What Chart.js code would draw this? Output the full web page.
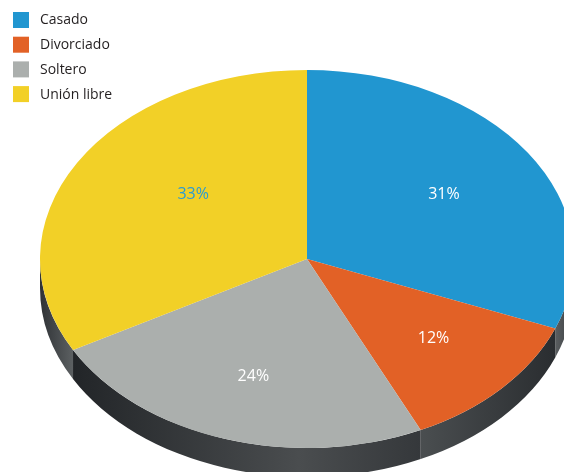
<!DOCTYPE html>
<html><head><meta charset="utf-8">
<script src="https://cdn.jsdelivr.net/npm/chart.js@4/dist/chart.umd.min.js"></script>
<style>html,body{margin:0;padding:0;background:#fff;overflow:hidden}</style>
</head><body>
<canvas id="c" width="564" height="472" style="display:block;width:564px;height:472px"></canvas>
<script>
const categories = ['Casado', 'Divorciado', 'Soltero', 'Unión libre'];
const values = [31, 12, 24, 33];
const valueLabels = ['31%', '12%', '24%', '33%'];
const sliceColors = ['#2196d0', '#e26126', '#abafad', '#f2d027'];

const pie3d = {
  id: 'pie3d',
  beforeDatasetsDraw(chart, args, opts) {
    const ctx = chart.ctx;
    const meta = chart.getDatasetMeta(0);
    const p = meta.data[0].getProps(['x', 'y', 'outerRadius'], true);
    const cx = p.x, cy = p.y, ry = p.outerRadius, rx = ry * opts.scaleX, d = opts.depth;
    ctx.save();
    meta.data.forEach((arc, i) => {
      const q = arc.getProps(['startAngle', 'endAngle'], true);
      const a = Math.max(q.startAngle, 0), b = Math.min(q.endAngle, Math.PI);
      if (a >= b) return;
      const xl = cx + rx * Math.cos(b), xr = cx + rx * Math.cos(a);
      const g = ctx.createLinearGradient(xl, 0, xr, 0);
      opts.sideStops[i].forEach(s => g.addColorStop(s[0], s[1]));
      ctx.beginPath();
      ctx.ellipse(cx, cy, rx, ry, 0, a, b, false);
      ctx.ellipse(cx, cy + d, rx, ry, 0, b, a, true);
      ctx.closePath();
      ctx.fillStyle = g;
      ctx.fill();
    });
    ctx.restore();
    ctx.save();
    ctx.translate(cx, cy);
    ctx.scale(opts.scaleX, 1);
    ctx.translate(-cx, -cy);
  },
  afterDatasetsDraw(chart, args, opts) {
    const ctx = chart.ctx;
    ctx.restore();
    const meta = chart.getDatasetMeta(0);
    ctx.save();
    ctx.font = '16px "Open Sans"';
    ctx.textAlign = 'center';
    ctx.textBaseline = 'middle';
    meta.data.forEach((arc, i) => {
      const q = arc.getProps(['x', 'y', 'startAngle', 'endAngle', 'outerRadius'], true);
      const ry = q.outerRadius, rx = ry * opts.scaleX;
      const mid = (q.startAngle + q.endAngle) / 2 + opts.labelShift[i] * Math.PI / 180;
      const f = opts.labelRadius[i];
      ctx.fillStyle = opts.labelColors[i];
      ctx.fillText(valueLabels[i], q.x + f * rx * Math.cos(mid), q.y + f * ry * Math.sin(mid) + 1);
    });
    // legend
    ctx.textAlign = 'left';
    ctx.font = '14px "Open Sans"';
    categories.forEach((c, i) => {
      const top = 12 + i * 24.7;
      ctx.fillStyle = sliceColors[i];
      ctx.fillRect(13, top, 16, 16);
      ctx.fillStyle = '#231f20';
      ctx.fillText(c, 40, top + 8.5);
    });
    ctx.restore();
  }
};

new Chart(document.getElementById('c'), {
  type: 'pie',
  data: {
    labels: categories,
    datasets: [{
      data: values,
      backgroundColor: sliceColors,
      borderWidth: 0,
      clip: false
    }]
  },
  options: {
    responsive: false,
    animation: false,
    events: [],
    layout: { padding: { left: 118, right: 68, top: 70, bottom: 24 } },
    plugins: {
      legend: { display: false },
      tooltip: { enabled: false },
      pie3d: {
        scaleX: 267 / 189,
        depth: 29,
        labelRadius: [0.62, 0.63, 0.65, 0.55],
        labelShift: [0, -2, 0, 8.6],
        labelColors: ['#ffffff', '#ffffff', '#ffffff', '#2b9bd3'],
        sideStops: [
          [[0, '#5a5e60'], [1, '#3a3d40']],
          [[0, '#4a4e50'], [1, '#2a2d30']],
          [[0, '#222528'], [0.65, '#4a4d4f'], [1, '#35383b']],
          [[0, '#2f3235'], [1, '#5c6062']]
        ]
      }
    }
  },
  plugins: [pie3d]
});
</script>
</body></html>
